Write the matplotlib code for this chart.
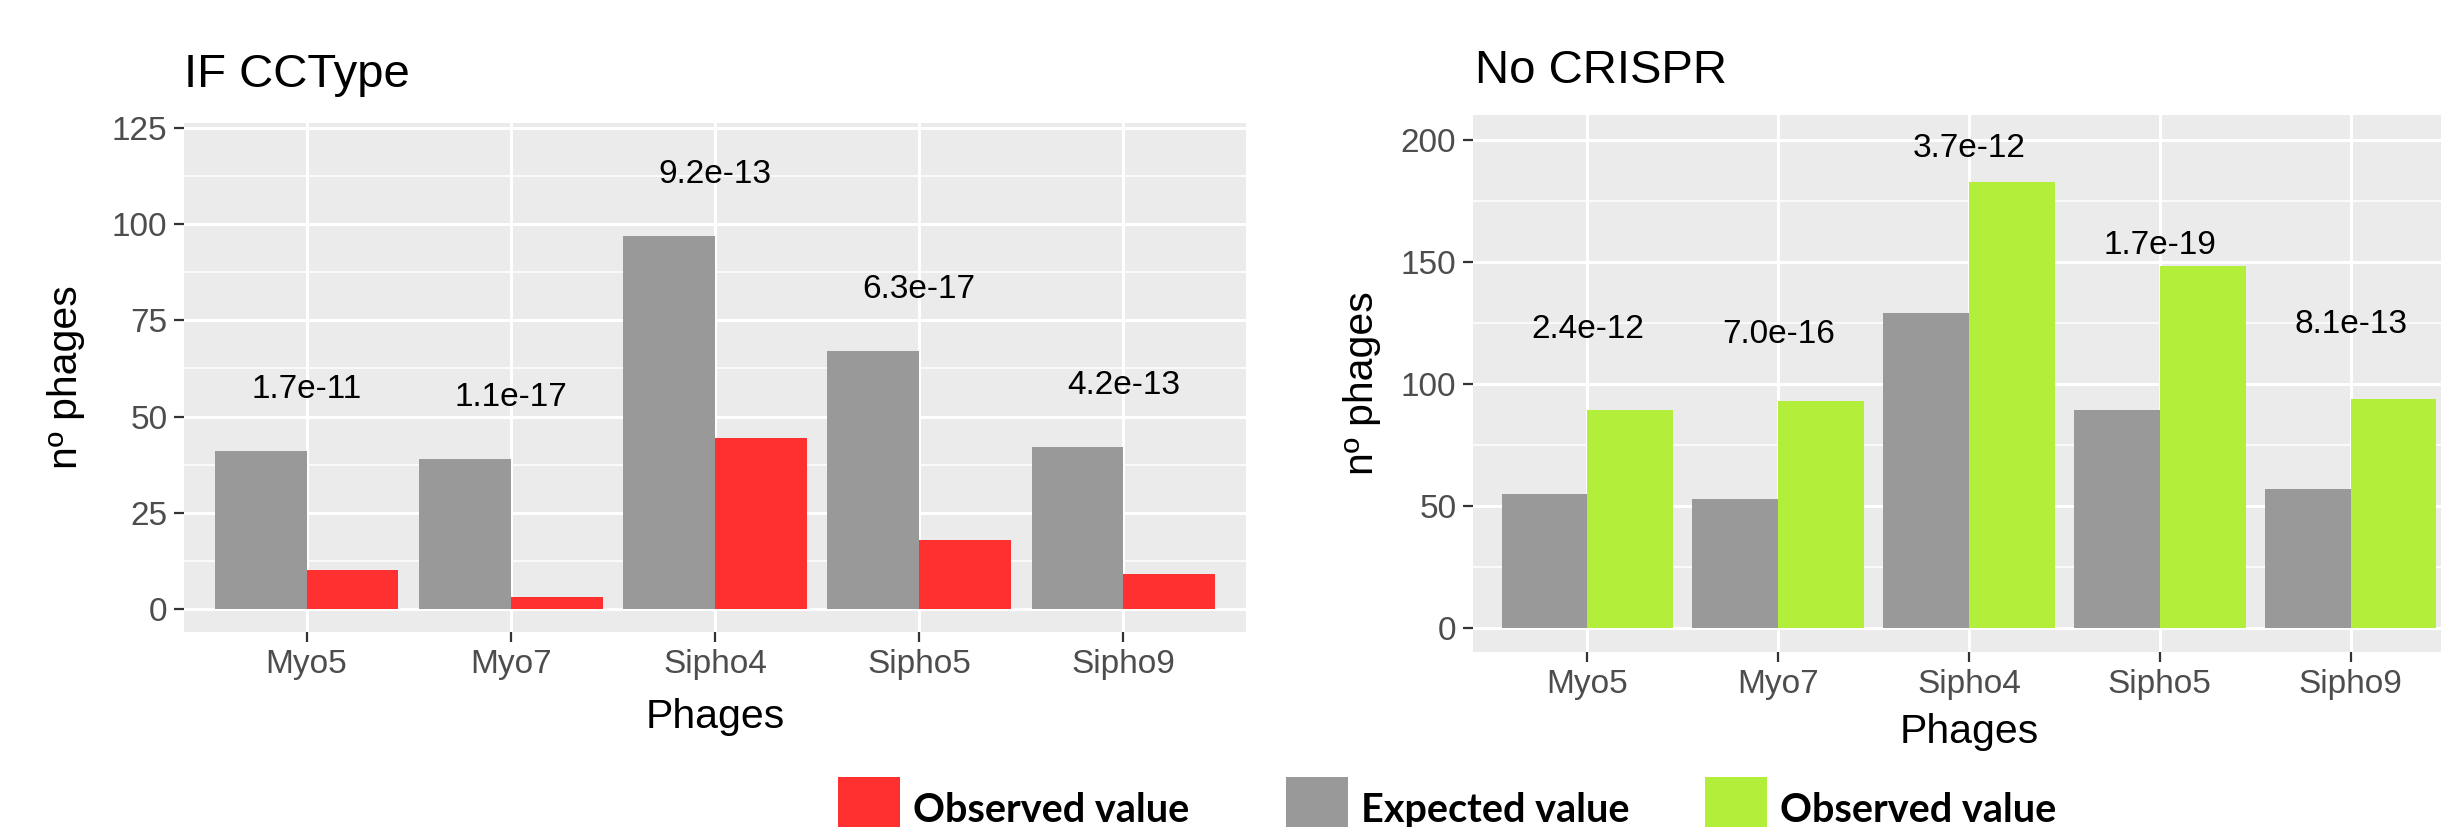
import matplotlib
matplotlib.use("Agg")
import matplotlib.pyplot as plt
from matplotlib.patches import Rectangle
import numpy as np

# --- data -------------------------------------------------------------
phages = ["Myo5", "Myo7", "Sipho4", "Sipho5", "Sipho9"]

ifcc_expected = [41, 39, 97, 67, 42]
ifcc_observed = [10, 3, 44.5, 18, 9]
ifcc_pvalues = ["1.7e-11", "1.1e-17", "9.2e-13", "6.3e-17", "4.2e-13"]

nocrispr_expected = [55, 53, 129, 89.5, 57]
nocrispr_observed = [89.5, 93, 183, 148.5, 94]
nocrispr_pvalues = ["2.4e-12", "7.0e-16", "3.7e-12", "1.7e-19", "8.1e-13"]

ifcc_yticks = [0, 25, 50, 75, 100, 125]
nocrispr_yticks = [0, 50, 100, 150, 200]

# --- style ------------------------------------------------------------
RED = "#FF3030"
GREY = "#999999"
GREEN = "#B3EE3A"
PANEL = "#EBEBEB"
FONT = "Liberation Sans"

W, H = 2441, 827
fig = plt.figure(figsize=(W / 100, H / 100), dpi=100)
fig.patch.set_facecolor("white")


def px_axes(left, top, right, bottom):
    return fig.add_axes([left / W, 1 - bottom / H, (right - left) / W, (bottom - top) / H])


def style_panel(ax, yticks, ylim):
    ax.set_facecolor(PANEL)
    for s in ax.spines.values():
        s.set_visible(False)
    ax.set_xlim(-0.6, len(phages) - 0.4)
    ax.set_ylim(*ylim)
    ax.set_yticks(yticks)
    step = yticks[1] - yticks[0]
    minor = [t + step / 2 for t in [yticks[0] - step] + yticks]
    ax.set_yticks([m for m in minor if ylim[0] < m < ylim[1]], minor=True)
    ax.set_xticks(range(len(phages)))
    ax.set_xticklabels(phages)
    ax.grid(which="major", color="white", linewidth=2.2)
    ax.grid(which="minor", axis="y", color="white", linewidth=1.1)
    ax.set_axisbelow(True)
    ax.tick_params(which="major", length=7, width=1.6, color="#333333",
                   labelsize=24, labelcolor="#4D4D4D", pad=5)
    ax.tick_params(which="minor", length=0)
    for lab in ax.get_xticklabels() + ax.get_yticklabels():
        lab.set_fontfamily(FONT)


def draw_bars(ax, expected, observed, obs_color, pvalues, label_offset):
    x = np.arange(len(phages))
    w = 0.45
    ax.bar(x - w / 2, expected, width=w, color=GREY, zorder=2)
    ax.bar(x + w / 2, observed, width=w, color=obs_color, zorder=2)
    for xi, e, p in zip(x, expected, pvalues):
        ax.text(xi, e + label_offset, p, ha="center", va="center",
                fontsize=24, family=FONT, color="black", zorder=3)


# left panel: IF CCType
ax1 = px_axes(184, 123, 1246, 632)
style_panel(ax1, ifcc_yticks, (-6, 126.3))
draw_bars(ax1, ifcc_expected, ifcc_observed, RED, ifcc_pvalues, 16)

# right panel: No CRISPR (runs past the right edge of the figure)
ax2 = px_axes(1473, 115, 2465, 652)
style_panel(ax2, nocrispr_yticks, (-10, 210.4))
draw_bars(ax2, nocrispr_expected, nocrispr_observed, GREEN, nocrispr_pvalues, 67.5)

# titles and axis titles
fig.text(184 / W, 1 - 87 / H, "IF CCType", fontsize=34, family=FONT, va="baseline", ha="left")
fig.text(1475 / W, 1 - 83 / H, "No CRISPR", fontsize=34, family=FONT, va="baseline", ha="left")

fig.text(715 / W, 1 - 717 / H, "Phages", fontsize=29.5, family=FONT, ha="center", va="center")
fig.text(1969 / W, 1 - 732 / H, "Phages", fontsize=29.5, family=FONT, ha="center", va="center")
fig.text(66 / W, 1 - 377 / H, "nº phages", fontsize=29.5, family=FONT, rotation=90,
         ha="center", va="center")
fig.text(1362 / W, 1 - 383 / H, "nº phages", fontsize=29.5, family=FONT, rotation=90,
         ha="center", va="center")

# legend keys along the bottom
legend_items = [
    (838, RED, "Observed value"),
    (1286, GREY, "Expected value"),
    (1705, GREEN, "Observed value"),
]
for x0, col, txt in legend_items:
    fig.patches.append(Rectangle((x0 / W, 0), 62 / W, (827 - 777) / H,
                                 transform=fig.transFigure, facecolor=col,
                                 edgecolor="none"))
    fig.text((x0 + 75) / W, 1 - 822 / H, txt, fontsize=28.5, family="Lato",
             weight="bold", ha="left", va="baseline")

fig.savefig("out.png", dpi=100)
